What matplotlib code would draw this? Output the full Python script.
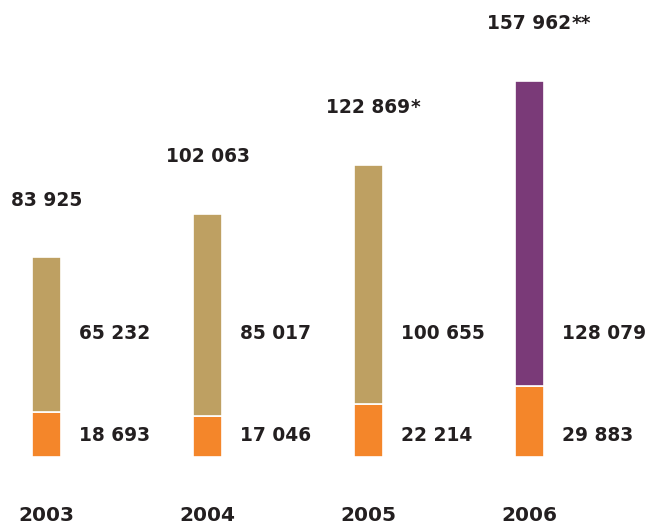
import matplotlib.pyplot as plt

years = ["2003", "2004", "2005", "2006"]
bottom_vals = [18693, 17046, 22214, 29883]
top_vals = [65232, 85017, 100655, 128079]
totals = [83925, 102063, 122869, 157962]
stars = ["", "", "*", "**"]

orange = "#F4862A"
tan = "#BEA062"
purple = "#7A3A78"
text_color = "#231F20"


def fmt(v):
    return "{:,}".format(v).replace(",", " ")


fig = plt.figure(figsize=(6.48, 5.25), dpi=100)
ax = fig.add_axes([0, 0, 1, 1])
ax.set_xlim(-0.289, 3.736)
ax.set_ylim(-28600, 192000)
ax.axis("off")

x = list(range(len(years)))
top_colors = [tan, tan, tan, purple]
width = 0.178
ax.bar(x, bottom_vals, width=width, color=orange, edgecolor="white", linewidth=1.2)
ax.bar(x, top_vals, width=width, bottom=bottom_vals, color=top_colors,
       edgecolor="white", linewidth=1.2)

font = dict(family="DejaVu Sans", fontweight="bold", fontsize=13.4, color=text_color)
year_font = dict(font, fontsize=14.5)

for i in x:
    t = ax.text(i, totals[i] + 24000, fmt(totals[i]), ha="center", va="center", **font)
    if stars[i]:
        ax.annotate(stars[i], xy=(1, 0.5), xycoords=t, ha="left", va="center", **font)
    ax.text(i + 0.2, 51700, fmt(top_vals[i]), ha="left", va="center", **font)
    ax.text(i + 0.2, 9200, fmt(bottom_vals[i]), ha="left", va="center", **font)
    ax.text(i, -24400, years[i], ha="center", va="center", **year_font)

fig.savefig("out.png", dpi=100)
